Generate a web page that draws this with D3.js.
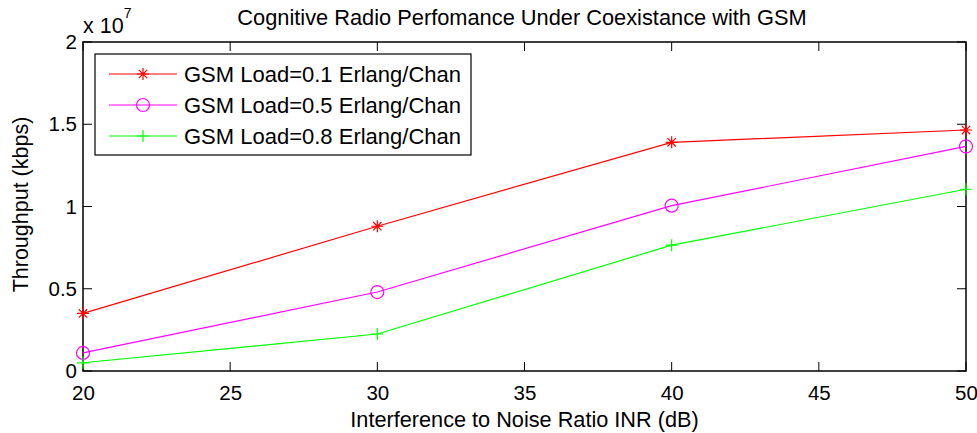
<!DOCTYPE html>
<html>
<head>
<meta charset="utf-8">
<script src="https://cdn.jsdelivr.net/npm/d3@7"></script>
<style>
  body { margin: 0; background: #fff; }
  svg text { font-family: "Liberation Sans", Arial, sans-serif; fill: #000; }
</style>
</head>
<body>
<div id="chart"></div>
<script>
// data
var inr = [20, 30, 40, 50];
var load01 = [0.35e7, 0.88e7, 1.39e7, 1.465e7];
var load05 = [0.11e7, 0.48e7, 1.005e7, 1.365e7];
var load08 = [0.05e7, 0.225e7, 0.765e7, 1.105e7];
var seriesNames = ["GSM Load=0.1 Erlang/Chan", "GSM Load=0.5 Erlang/Chan", "GSM Load=0.8 Erlang/Chan"];
var xTicks = [20, 25, 30, 35, 40, 45, 50];
var yTicks = [0, 0.5e7, 1e7, 1.5e7, 2e7];

var svgWidth = 977;
var svgHeight = 433;
var margin = { top: 42, right: 11, bottom: 62, left: 83 };
var width = svgWidth - margin.left - margin.right;
var height = svgHeight - margin.top - margin.bottom;

var svg = d3.select("#chart").append("svg")
  .attr("width", svgWidth)
  .attr("height", svgHeight);

var chartGroup = svg.append("g")
  .attr("transform", `translate(${margin.left}, ${margin.top})`);

var xScale = d3.scaleLinear().domain([20, 50]).range([0, width]);
var yScale = d3.scaleLinear().domain([0, 2e7]).range([height, 0]);

var tickLen = 9;

// axes: matlab style, ticks inward on all four sides
var bottomAxis = d3.axisBottom(xScale).tickValues(xTicks).tickSize(0).tickPadding(14);
var leftAxis = d3.axisLeft(yScale).tickValues(yTicks).tickSize(0).tickPadding(6)
  .tickFormat(d => d3.format("~g")(d / 1e7));

var xAxisG = chartGroup.append("g")
  .attr("transform", `translate(0, ${height})`)
  .call(bottomAxis);
var yAxisG = chartGroup.append("g").call(leftAxis);

[xAxisG, yAxisG].forEach(function(g) {
  g.select(".domain").remove();
  g.selectAll("text").style("font-size", "20.5px");
});

// inward tick marks
var tickG = chartGroup.append("g").attr("stroke", "#000").attr("stroke-width", 1);
xTicks.forEach(function(t) {
  tickG.append("line").attr("x1", xScale(t)).attr("x2", xScale(t)).attr("y1", height).attr("y2", height - tickLen);
  tickG.append("line").attr("x1", xScale(t)).attr("x2", xScale(t)).attr("y1", 0).attr("y2", tickLen);
});
yTicks.forEach(function(t) {
  tickG.append("line").attr("x1", 0).attr("x2", tickLen).attr("y1", yScale(t)).attr("y2", yScale(t));
  tickG.append("line").attr("x1", width).attr("x2", width - tickLen).attr("y1", yScale(t)).attr("y2", yScale(t));
});

// box
chartGroup.append("rect")
  .attr("x", 0).attr("y", 0)
  .attr("width", width).attr("height", height)
  .attr("fill", "none").attr("stroke", "#000").attr("stroke-width", 1.5);

// exponent label
var expText = svg.append("text")
  .attr("x", margin.left)
  .attr("y", 33)
  .style("font-size", "21.5px")
  .text("x 10");
expText.append("tspan").attr("dy", -15).style("font-size", "14px").text("7");

// series
var colors = ["#ff0000", "#ff00ff", "#00ff00"];
var markers = ["star", "circle", "plus"];
var allSeries = [load01, load05, load08];

var line = d3.line()
  .x((d, i) => xScale(inr[i]))
  .y(d => yScale(d));

function drawMarker(g, type, x, y, color) {
  if (type === "circle") {
    g.append("circle").attr("cx", x).attr("cy", y).attr("r", 6.5)
      .attr("fill", "none").attr("stroke", color).attr("stroke-width", 1.2);
  } else if (type === "plus") {
    g.append("path")
      .attr("d", `M${x - 6},${y}H${x + 6}M${x},${y - 6}V${y + 6}`)
      .attr("stroke", color).attr("stroke-width", 1.2);
  } else {
    var r = 6;
    var d = `M${x - r},${y}H${x + r}M${x},${y - r}V${y + r}` +
      `M${x - r * 0.7},${y - r * 0.7}L${x + r * 0.7},${y + r * 0.7}` +
      `M${x - r * 0.7},${y + r * 0.7}L${x + r * 0.7},${y - r * 0.7}`;
    g.append("path").attr("d", d).attr("stroke", color).attr("stroke-width", 1.2);
  }
}

allSeries.forEach(function(values, s) {
  chartGroup.append("path")
    .datum(values)
    .attr("d", line)
    .attr("fill", "none")
    .attr("stroke", colors[s])
    .attr("stroke-width", 1.2);
  var mg = chartGroup.append("g");
  values.forEach(function(v, i) {
    drawMarker(mg, markers[s], xScale(inr[i]), yScale(v), colors[s]);
  });
});

// legend
var legend = svg.append("g").attr("transform", "translate(95, 54)");
legend.append("rect")
  .attr("x", 0).attr("y", 0)
  .attr("width", 376).attr("height", 101)
  .attr("fill", "#fff").attr("stroke", "#000").attr("stroke-width", 1.2);
seriesNames.forEach(function(name, s) {
  var y = 20 + s * 31;
  legend.append("line")
    .attr("x1", 14).attr("x2", 82).attr("y1", y).attr("y2", y)
    .attr("stroke", colors[s]).attr("stroke-width", 1.2);
  drawMarker(legend, markers[s], 48, y, colors[s]);
  legend.append("text")
    .attr("x", 89).attr("y", y)
    .attr("dy", "0.36em")
    .style("font-size", "22px")
    .text(name);
});

// title and axis labels
svg.append("text")
  .attr("x", 522)
  .attr("y", 25)
  .attr("text-anchor", "middle")
  .style("font-size", "21.8px")
  .text("Cognitive Radio Perfomance Under Coexistance with GSM");

svg.append("text")
  .attr("x", margin.left + width / 2)
  .attr("y", 427)
  .attr("text-anchor", "middle")
  .style("font-size", "21.7px")
  .text("Interference to Noise Ratio INR (dB)");

svg.append("text")
  .attr("transform", "rotate(-90)")
  .attr("x", -(margin.top + height / 2) + 2)
  .attr("y", 28)
  .attr("text-anchor", "middle")
  .style("font-size", "21.5px")
  .text("Throughput (kbps)");
</script>
</body>
</html>
